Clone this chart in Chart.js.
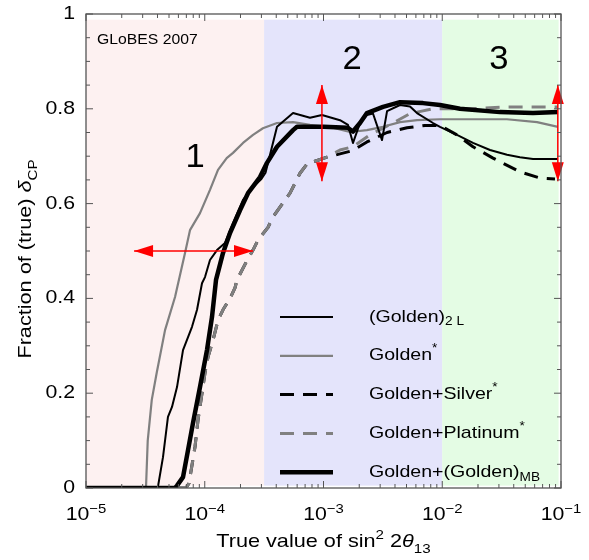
<!DOCTYPE html>
<html>
<head>
<meta charset="utf-8">
<script src="https://cdn.jsdelivr.net/npm/chart.js@4.4.1/dist/chart.umd.min.js"></script>
<style>
  body { margin: 0; background: #ffffff; }
  #c { display: block; }
</style>
</head>
<body>
<canvas id="c" width="589" height="560"></canvas>
<script>
// tick labels
const xTickExps = [-5, -4, -3, -2, -1];
const yTickValues = [0, 0.2, 0.4, 0.6, 0.8, 1];
const yTickLabels = ["0", "0.2", "0.4", "0.6", "0.8", "1"];

// shaded regions 1 / 2 / 3
const regionEdges = [1e-5, 3.16e-4, 1e-2, 0.0955];
const regionNames = ["1", "2", "3"];
const regionNameX = [8.3e-5, 1.74e-3, 3.0e-2];
const regionNameY = [0.696, 0.903, 0.903];

// red arrows (from -> to)
const arrowX1 = [2.54e-5, 9.7e-4, 0.094];
const arrowY1 = [0.5, 0.647, 0.647];
const arrowX2 = [2.55e-4, 9.7e-4, 0.094];
const arrowY2 = [0.5, 0.85, 0.85];

// (Golden)_2L
const xGolden2L = [1e-5, 4.02e-5, 4.45e-5, 4.9e-5, 5.3e-5, 5.84e-5, 6.56e-5, 7.81e-5, 8.61e-5, 9.48e-5,
  1.005e-4, 1.107e-4, 1.268e-4, 1.48e-4, 1.73e-4, 2.1e-4, 2.55e-4, 3.0e-4, 3.25e-4, 4.06e-4, 5.54e-4,
  7.7e-4, 9.71e-4, 1.377e-3, 1.608e-3, 1.772e-3, 2.03e-3, 2.32e-3, 2.61e-3, 3.11e-3, 3.43e-3, 4.41e-3,
  5.35e-3, 6.13e-3, 8.36e-3, 9.57e-3, 1.33e-2, 1.815e-2, 2.524e-2, 3.51e-2, 4.51e-2, 5.81e-2, 9.43e-2];
const yGolden2L = [0, 0, 0.065, 0.15, 0.171, 0.213, 0.291, 0.34, 0.376, 0.432,
  0.445, 0.481, 0.502, 0.517, 0.559, 0.608, 0.635, 0.652, 0.665, 0.762, 0.791,
  0.781, 0.787, 0.776, 0.766, 0.728, 0.77, 0.787, 0.79, 0.734, 0.795, 0.808,
  0.805, 0.791, 0.77, 0.762, 0.745, 0.728, 0.713, 0.703, 0.698, 0.694, 0.694];

// Golden*
const xGoldenStar = [1e-5, 3.2e-5, 3.31e-5, 3.58e-5, 3.94e-5, 4.63e-5, 5.62e-5, 6.82e-5, 7.51e-5, 9.12e-5,
  1.107e-4, 1.293e-4, 1.53e-4, 1.73e-4, 2.1e-4, 2.55e-4, 3.09e-4, 4.06e-4, 5.54e-4, 7.7e-4, 1.2e-3,
  1.67e-3, 2.32e-3, 3.17e-3, 4.41e-3, 6.13e-3, 9.57e-3, 1.8e-2, 3.5e-2, 6.28e-2, 9.43e-2];
const yGoldenStar = [0, 0, 0.1, 0.186, 0.243, 0.333, 0.403, 0.496, 0.544, 0.58,
  0.629, 0.671, 0.696, 0.707, 0.728, 0.745, 0.759, 0.77, 0.772, 0.766, 0.76,
  0.751, 0.755, 0.762, 0.772, 0.776, 0.778, 0.778, 0.778, 0.772, 0.762];

// Golden+Silver*
const xSilver = [1e-5, 6.95e-5, 7.37e-5, 8.28e-5, 8.77e-5, 9.48e-5, 1.005e-4, 1.065e-4, 1.174e-4, 1.293e-4,
  1.425e-4, 1.632e-4, 1.797e-4, 1.869e-4, 2.269e-4, 2.549e-4, 2.808e-4, 3.41e-4, 3.755e-4, 5.224e-4,
  6.34e-4, 7.4e-4, 8.16e-4, 1.07e-3, 1.377e-3, 1.772e-3, 2.32e-3, 3.43e-3, 5.05e-3, 7.16e-3, 9.57e-3,
  1.33e-2, 1.815e-2, 2.676e-2, 4.51e-2, 6.66e-2, 8.9e-2];
const ySilver = [0, 0, 0.01, 0.087, 0.143, 0.2, 0.243, 0.276, 0.312, 0.354,
  0.376, 0.4, 0.422, 0.439, 0.48, 0.502, 0.523, 0.55, 0.572, 0.622,
  0.664, 0.686, 0.688, 0.698, 0.705, 0.712, 0.73, 0.75, 0.76, 0.765, 0.765,
  0.745, 0.72, 0.696, 0.667, 0.654, 0.652];

// Golden+Platinum*
const xPlatinum = [1e-5, 6.95e-5, 7.37e-5, 8.28e-5, 8.77e-5, 9.48e-5, 1.005e-4, 1.065e-4, 1.174e-4, 1.293e-4,
  1.425e-4, 1.632e-4, 1.797e-4, 1.869e-4, 2.269e-4, 2.549e-4, 2.808e-4, 3.41e-4, 3.755e-4, 5.224e-4,
  6.34e-4, 7.4e-4, 8.16e-4, 1.07e-3, 1.377e-3, 1.772e-3, 2.46e-3, 3.85e-3, 5.35e-3, 8.36e-3, 1.8e-2,
  3.5e-2, 9.43e-2];
const yPlatinum = [0, 0, 0.01, 0.087, 0.143, 0.2, 0.243, 0.276, 0.312, 0.354,
  0.376, 0.4, 0.422, 0.439, 0.48, 0.502, 0.523, 0.55, 0.572, 0.622,
  0.664, 0.686, 0.688, 0.698, 0.713, 0.72, 0.745, 0.77, 0.79, 0.8, 0.8,
  0.804, 0.804];

// Golden+(Golden)_MB
const xGoldenMB = [1e-5, 5.62e-5, 5.84e-5, 6.56e-5, 7.23e-5, 7.96e-5, 9.12e-5, 1.044e-4, 1.151e-4, 1.244e-4,
  1.425e-4, 1.632e-4, 1.981e-4, 2.313e-4, 2.92e-4, 3.344e-4, 4.06e-4, 5.54e-4, 5.98e-4, 1.0e-3, 1.6e-3,
  1.77e-3, 2.03e-3, 2.32e-3, 3.17e-3, 4.41e-3, 6.89e-3, 9.57e-3, 1.41e-2, 3.06e-2, 5.81e-2, 9.43e-2];
const yGoldenMB = [0, 0, 0.005, 0.023, 0.08, 0.137, 0.213, 0.291, 0.361, 0.439,
  0.496, 0.538, 0.586, 0.622, 0.656, 0.686, 0.72, 0.755, 0.762, 0.762, 0.76,
  0.752, 0.77, 0.791, 0.804, 0.814, 0.812, 0.808, 0.8, 0.793, 0.791, 0.793];

const legendNames = [
  [{ t: "(Golden)" }, { t: "2 L", s: "sub" }],
  [{ t: "Golden" }, { t: "*", s: "sup" }],
  [{ t: "Golden+Silver" }, { t: "*", s: "sup" }],
  [{ t: "Golden+Platinum" }, { t: "*", s: "sup" }],
  [{ t: "Golden+(Golden)" }, { t: "MB", s: "sub" }]
];

function pts(xs, ys) {
  return xs.map((x, i) => ({ x: x, y: ys[i] }));
}

const FONT = '"Liberation Sans", Arial, sans-serif';

// draws text with sub/superscripts, stretched sideways by sx
function richText(ctx, parts, x, y, size, align, sx) {
  sx = sx || 1;
  let w = 0;
  parts.forEach(p => {
    const sz = p.s ? size * 0.7 : size;
    ctx.font = (p.i ? "italic " : "") + sz + "px " + FONT;
    p.w = ctx.measureText(p.t).width;
    w += p.w;
  });
  let cx = 0;
  if (align == "center") cx = -w / 2;
  if (align == "right") cx = -w;
  ctx.save();
  ctx.translate(x, y);
  ctx.scale(sx, 1);
  ctx.textAlign = "left";
  parts.forEach(p => {
    const sz = p.s ? size * 0.7 : size;
    ctx.font = (p.i ? "italic " : "") + sz + "px " + FONT;
    let dy = 0;
    if (p.s == "sub") dy = size * 0.3;
    if (p.s == "sup") dy = -size * 0.4;
    ctx.fillText(p.t, cx, dy);
    cx += p.w;
  });
  ctx.restore();
  return w * sx;
}

function arrowHead(ctx, x, y, ang) {
  ctx.save();
  ctx.translate(x, y);
  ctx.rotate(ang);
  ctx.beginPath();
  ctx.moveTo(0, 0);
  ctx.lineTo(-19, -6);
  ctx.lineTo(-19, 6);
  ctx.closePath();
  ctx.fill();
  ctx.restore();
}

const decor = {
  id: "decor",
  beforeDatasetsDraw(chart) {
    const ctx = chart.ctx, xs = chart.scales.x, ys = chart.scales.y;
    const cols = ["#fdf1f1", "#e4e4fb", "#e4fce4"];
    ctx.save();
    for (let i = 0; i < 3; i++) {
      const x0 = xs.getPixelForValue(regionEdges[i]);
      const x1 = xs.getPixelForValue(regionEdges[i + 1]);
      const y0 = ys.getPixelForValue(0.988);
      const y1 = ys.getPixelForValue(0.005);
      ctx.fillStyle = cols[i];
      ctx.fillRect(x0, y0, x1 - x0, y1 - y0);
    }
    ctx.restore();
  },
  afterDatasetsDraw(chart) {
    const ctx = chart.ctx, xs = chart.scales.x, ys = chart.scales.y, a = chart.chartArea;
    ctx.save();

    // red arrows
    ctx.strokeStyle = "#ff0000";
    ctx.fillStyle = "#ff0000";
    ctx.lineWidth = 1.5;
    for (let i = 0; i < arrowX1.length; i++) {
      const px1 = xs.getPixelForValue(arrowX1[i]), py1 = ys.getPixelForValue(arrowY1[i]);
      const px2 = xs.getPixelForValue(arrowX2[i]), py2 = ys.getPixelForValue(arrowY2[i]);
      const ang = Math.atan2(py2 - py1, px2 - px1);
      ctx.beginPath();
      ctx.moveTo(px1, py1);
      ctx.lineTo(px2, py2);
      ctx.stroke();
      arrowHead(ctx, px2, py2, ang);
      arrowHead(ctx, px1, py1, ang + Math.PI);
    }

    // frame and inward ticks
    ctx.strokeStyle = "#555555";
    ctx.lineWidth = 1.3;
    ctx.strokeRect(a.left, a.top, a.right - a.left, a.bottom - a.top);
    ctx.lineWidth = 1;
    ctx.beginPath();
    for (let e = -5; e <= -1; e++) {
      for (let m = 1; m <= 9; m++) {
        const v = m * Math.pow(10, e);
        if (v > 0.1001) break;
        const px = xs.getPixelForValue(v);
        const len = m == 1 ? 7 : 4;
        ctx.moveTo(px, a.bottom); ctx.lineTo(px, a.bottom - len);
        ctx.moveTo(px, a.top); ctx.lineTo(px, a.top + len);
      }
    }
    for (let k = 0; k <= 20; k++) {
      const py = ys.getPixelForValue(k * 0.05);
      const len = k % 4 == 0 ? 7 : 4;
      ctx.moveTo(a.left, py); ctx.lineTo(a.left + len, py);
      ctx.moveTo(a.right, py); ctx.lineTo(a.right - len, py);
    }
    ctx.stroke();

    // tick labels
    ctx.fillStyle = "#000000";
    ctx.textBaseline = "alphabetic";
    xTickExps.forEach(e => {
      const px = xs.getPixelForValue(Math.pow(10, e));
      richText(ctx, [{ t: "10" }, { t: "\u2212" + Math.abs(e), s: "sup" }], px, 520, 18.5, "center", 1.15);
    });
    ctx.textBaseline = "middle";
    yTickValues.forEach((v, i) => {
      richText(ctx, [{ t: yTickLabels[i] }], a.left - 11, ys.getPixelForValue(v), 18.5, "right", 1.15);
    });

    // axis titles
    ctx.textBaseline = "alphabetic";
    richText(ctx, [{ t: "True value of sin" }, { t: "2", s: "sup" }, { t: " 2" }, { t: "\u03b8", i: true }, { t: "13", s: "sub" }],
      (a.left + a.right) / 2, 547, 19, "center", 1.14);
    ctx.save();
    ctx.translate(31, 259);
    ctx.rotate(-Math.PI / 2);
    richText(ctx, [{ t: "Fraction of (true) " }, { t: "\u03b4", i: true }, { t: "CP", s: "sub" }], 0, 0, 19, "center", 1.14);
    ctx.restore();

    // region numbers and label
    ctx.textBaseline = "middle";
    regionNames.forEach((n, i) => {
      richText(ctx, [{ t: n }], xs.getPixelForValue(regionNameX[i]), ys.getPixelForValue(regionNameY[i]), 33, "center", 1.05);
    });
    richText(ctx, [{ t: "GLoBES 2007" }], a.left + 11, a.top + 26, 15, "left", 1.05);

    // legend
    const ds = chart.data.datasets;
    legendNames.forEach((parts, i) => {
      const ly = 317 + i * 38.8;
      const d = ds[i];
      ctx.strokeStyle = d.borderColor;
      ctx.lineWidth = d.borderWidth;
      ctx.setLineDash(d.borderDash || []);
      ctx.beginPath();
      ctx.moveTo(280, ly);
      ctx.lineTo(333, ly);
      ctx.stroke();
      ctx.setLineDash([]);
      ctx.fillStyle = "#000000";
      richText(ctx, parts, 369, ly, 17, "left", 1.15);
    });
    ctx.restore();
  }
};

new Chart(document.getElementById("c"), {
  type: "line",
  data: {
    datasets: [
      { label: "(Golden)2L", data: pts(xGolden2L, yGolden2L), borderColor: "#000000", borderWidth: 2, order: 2 },
      { label: "Golden*", data: pts(xGoldenStar, yGoldenStar), borderColor: "#808080", borderWidth: 2.2, order: 5 },
      { label: "Golden+Silver*", data: pts(xSilver, ySilver), borderColor: "#000000", borderWidth: 3, borderDash: [14, 9], order: 4 },
      { label: "Golden+Platinum*", data: pts(xPlatinum, yPlatinum), borderColor: "#808080", borderWidth: 3, borderDash: [14, 9], order: 3 },
      { label: "Golden+(Golden)MB", data: pts(xGoldenMB, yGoldenMB), borderColor: "#000000", borderWidth: 4.5, order: 1 }
    ]
  },
  options: {
    responsive: false,
    animation: false,
    devicePixelRatio: 1,
    layout: { padding: { left: 86, right: 28, top: 14, bottom: 72 } },
    elements: { point: { radius: 0 }, line: { tension: 0, borderCapStyle: "butt", borderJoinStyle: "round" } },
    plugins: { legend: { display: false }, tooltip: { enabled: false } },
    scales: {
      x: { type: "logarithmic", min: 1e-5, max: 0.1, display: false },
      y: { type: "linear", min: 0, max: 1, display: false }
    }
  },
  plugins: [decor]
});
</script>
</body>
</html>
